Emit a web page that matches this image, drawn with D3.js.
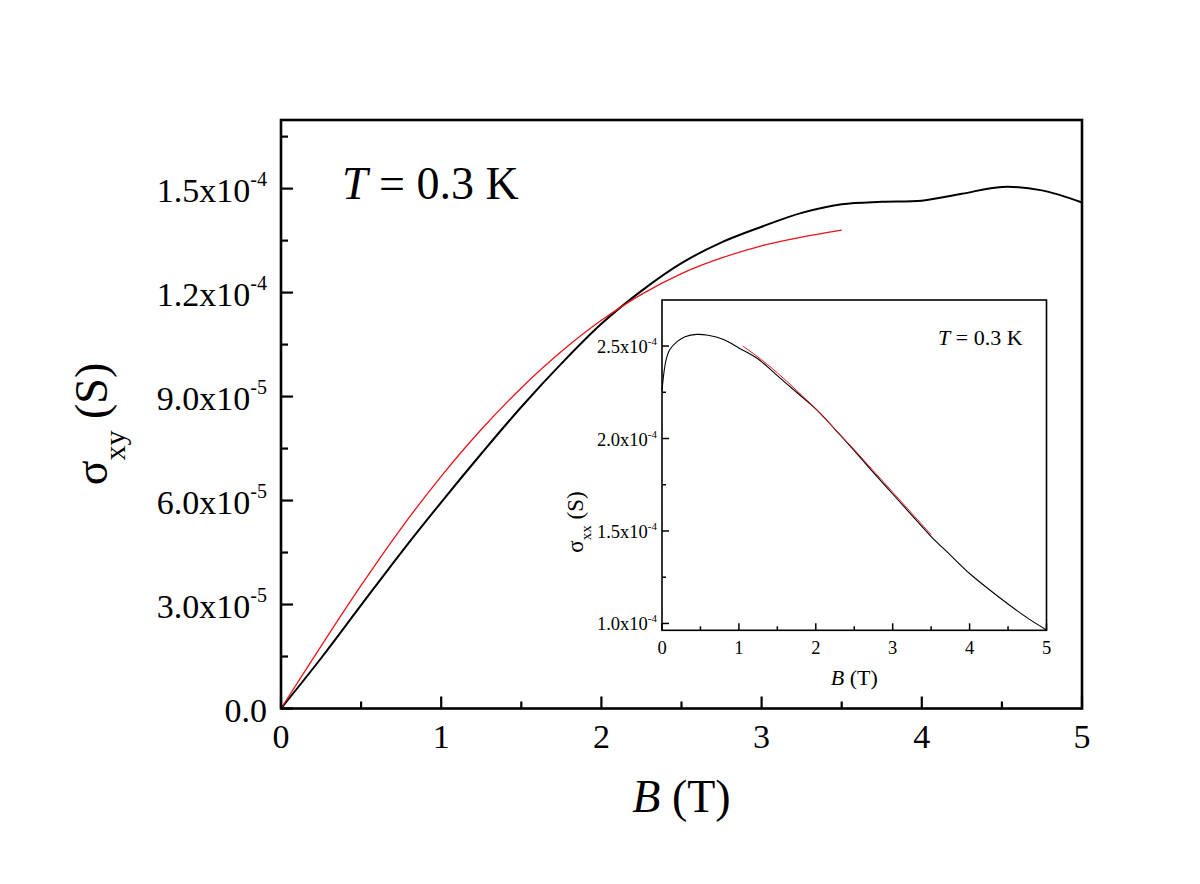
<!DOCTYPE html>
<html>
<head>
<meta charset="utf-8" />
<title>Hall conductivity vs B</title>
<style>
body { margin: 0; background: #fff; }
text { font-family: "Liberation Serif", "Times New Roman", serif; fill: #000; }
.frame { fill: none; stroke: #000; }
</style>
</head>
<body>
<script src="https://cdn.jsdelivr.net/npm/d3@7/dist/d3.min.js"></script>
<script>
// main panel: sigma_xy (S) vs B (T)
var mainB = [0, 0.25, 0.5, 0.75, 1.0, 1.25, 1.5, 1.75, 2.0, 2.25, 2.5, 2.75, 3.0, 3.25, 3.5, 3.75, 4.0, 4.25, 4.5, 4.75, 5.0];
var sigmaXY = [0, 1.45e-5, 2.98e-5, 4.5e-5, 5.95e-5, 7.35e-5, 8.7e-5, 9.95e-5, 11.1e-5, 12.05e-5, 12.85e-5, 13.45e-5,
               13.9e-5, 14.3e-5, 14.55e-5, 14.62e-5, 14.65e-5, 14.85e-5, 15.05e-5, 14.95e-5, 14.6e-5];
var fitB = [0, 0.25, 0.5, 0.75, 1.0, 1.25, 1.5, 1.75, 2.0, 2.25, 2.5, 2.75, 3.0, 3.25, 3.5];
var fitXY = [0, 1.8e-5, 3.55e-5, 5.2e-5, 6.7e-5, 8.05e-5, 9.25e-5, 10.3e-5, 11.2e-5, 11.95e-5, 12.55e-5, 13.0e-5,
             13.35e-5, 13.6e-5, 13.8e-5];
var mainYTicks = [0, 3e-5, 6e-5, 9e-5, 1.2e-4, 1.5e-4];
var mainYLabels = [["0.0", ""], ["3.0x10", "-5"], ["6.0x10", "-5"], ["9.0x10", "-5"], ["1.2x10", "-4"], ["1.5x10", "-4"]];
var mainYMinor = [1.5e-5, 4.5e-5, 7.5e-5, 10.5e-5, 13.5e-5, 16.5e-5];
var xTicks = [0, 1, 2, 3, 4, 5];
var xMinor = [0.5, 1.5, 2.5, 3.5, 4.5];

// inset: sigma_xx (S) vs B (T)
var insetB = [0, 0.05, 0.1, 0.2, 0.3, 0.45, 0.6, 0.8, 1.0, 1.25, 1.5, 1.75, 2.0, 2.25, 2.5, 2.75, 3.0, 3.25, 3.5, 3.75, 4.0, 4.25, 4.5, 4.75, 5.0];
var sigmaXX = [2.26e-4, 2.42e-4, 2.48e-4, 2.525e-4, 2.55e-4, 2.563e-4, 2.558e-4, 2.535e-4, 2.49e-4, 2.43e-4, 2.34e-4, 2.25e-4,
               2.16e-4, 2.05e-4, 1.935e-4, 1.815e-4, 1.70e-4, 1.585e-4, 1.47e-4, 1.37e-4, 1.27e-4, 1.185e-4, 1.105e-4, 1.03e-4, 0.965e-4];
var insetFitB = [1.05, 1.25, 1.5, 1.75, 2.0, 2.25, 2.5, 2.75, 3.0, 3.25, 3.5];
var insetFitXX = [2.50e-4, 2.44e-4, 2.355e-4, 2.26e-4, 2.16e-4, 2.05e-4, 1.94e-4, 1.825e-4, 1.71e-4, 1.595e-4, 1.48e-4];
var insetYTicks = [1.0e-4, 1.5e-4, 2.0e-4, 2.5e-4];
var insetYLabels = [["1.0x10", "-4"], ["1.5x10", "-4"], ["2.0x10", "-4"], ["2.5x10", "-4"]];
var insetYMinor = [1.25e-4, 1.75e-4, 2.25e-4];

var svg = d3.select("body").append("svg")
    .attr("width", 1200)
    .attr("height", 884);

function drawPanel(o) {
    var x = d3.scaleLinear().domain([0, 5]).range([o.left, o.right]);
    var y = d3.scaleLinear().domain(o.yDomain).range([o.bottom, o.top]);
    var g = svg.append("g");

    g.append("rect")
        .attr("x", o.left).attr("y", o.top)
        .attr("width", o.right - o.left).attr("height", o.bottom - o.top)
        .attr("fill", "#fff");

    // ticks point inwards, only on left and bottom
    g.selectAll(".xmaj").data(xTicks).enter().append("line")
        .attr("x1", function(d) { return x(d); }).attr("x2", function(d) { return x(d); })
        .attr("y1", o.bottom).attr("y2", o.bottom - o.tickMajor)
        .attr("stroke", "#000").attr("stroke-width", o.tickWidth);
    g.selectAll(".xmin").data(xMinor).enter().append("line")
        .attr("x1", function(d) { return x(d); }).attr("x2", function(d) { return x(d); })
        .attr("y1", o.bottom).attr("y2", o.bottom - o.tickMinor)
        .attr("stroke", "#000").attr("stroke-width", o.tickWidth);
    g.selectAll(".ymaj").data(o.yTicks).enter().append("line")
        .attr("y1", function(d) { return y(d); }).attr("y2", function(d) { return y(d); })
        .attr("x1", o.left).attr("x2", o.left + o.tickMajor)
        .attr("stroke", "#000").attr("stroke-width", o.tickWidth);
    g.selectAll(".ymin").data(o.yMinor).enter().append("line")
        .attr("y1", function(d) { return y(d); }).attr("y2", function(d) { return y(d); })
        .attr("x1", o.left).attr("x2", o.left + o.tickMinor)
        .attr("stroke", "#000").attr("stroke-width", o.tickWidth);

    // x tick labels
    g.selectAll(".xlab").data(xTicks).enter().append("text")
        .attr("x", function(d) { return x(d); })
        .attr("y", o.xLabelY)
        .attr("text-anchor", "middle")
        .style("font-size", o.tickFont + "px")
        .text(function(d) { return d; });

    // y tick labels with superscript exponent
    var yl = g.selectAll(".ylab").data(o.yTicks).enter().append("text")
        .attr("x", o.left - o.yLabelGap)
        .attr("y", function(d) { return y(d) + o.yLabelDy; })
        .attr("text-anchor", "end")
        .style("font-size", o.tickFont + "px");
    yl.append("tspan").text(function(d, i) { return o.yLabels[i][0]; });
    yl.append("tspan")
        .attr("dy", -o.supShift)
        .style("font-size", o.supFont + "px")
        .text(function(d, i) { return o.yLabels[i][1]; });

    var line = d3.line()
        .x(function(d) { return x(d[0]); })
        .y(function(d) { return y(d[1]); })
        .curve(d3.curveCatmullRom.alpha(0.5));

    g.append("path")
        .datum(d3.zip(o.bData, o.yData))
        .attr("d", line)
        .attr("fill", "none").attr("stroke", "#000").attr("stroke-width", o.dataWidth);
    g.append("path")
        .datum(d3.zip(o.fitB, o.fitY))
        .attr("d", line)
        .attr("fill", "none").attr("stroke", "#e8141a").attr("stroke-width", o.fitWidth);

    g.append("rect")
        .attr("class", "frame")
        .attr("x", o.left).attr("y", o.top)
        .attr("width", o.right - o.left).attr("height", o.bottom - o.top)
        .attr("stroke-width", o.frameWidth);

    // x title: B (T)
    var xt = g.append("text")
        .attr("x", (o.left + o.right) / 2)
        .attr("y", o.xTitleY)
        .attr("text-anchor", "middle")
        .style("font-size", o.titleFont + "px");
    xt.append("tspan").style("font-style", "italic").text("B");
    xt.append("tspan").text(" (T)");

    // y title: sigma with subscript
    var yt = g.append("text")
        .attr("transform", "translate(" + o.yTitleX + "," + o.yTitleY + ") rotate(-90)")
        .attr("text-anchor", "middle")
        .style("font-size", o.yTitleFont + "px");
    yt.append("tspan").text("\u03c3");
    yt.append("tspan").attr("dy", o.subShift).style("font-size", o.subFont + "px").text(o.sub);
    yt.append("tspan").attr("dy", -o.subShift).text(" (S)");

    // temperature note
    var tt = g.append("text")
        .attr("x", o.noteX).attr("y", o.noteY)
        .style("font-size", o.noteFont + "px");
    tt.append("tspan").style("font-style", "italic").text("T");
    tt.append("tspan").text(" = 0.3 K");
}

drawPanel({
    left: 281, right: 1082, top: 120, bottom: 708.5,
    yDomain: [0, 1.698e-4],
    yTicks: mainYTicks, yLabels: mainYLabels, yMinor: mainYMinor,
    tickMajor: 12, tickMinor: 7, tickWidth: 2.2, frameWidth: 2.6,
    tickFont: 34, supFont: 20, supShift: 16,
    xLabelY: 748, yLabelGap: 14, yLabelDy: 13,
    bData: mainB, yData: sigmaXY, fitB: fitB, fitY: fitXY,
    dataWidth: 2, fitWidth: 1.3,
    titleFont: 46, yTitleFont: 46, subFont: 30, subShift: 18, sub: "xy",
    xTitleY: 812, yTitleX: 107, yTitleY: 424,
    noteX: 342, noteY: 199, noteFont: 46
});

drawPanel({
    left: 662, right: 1046.5, top: 300, bottom: 630.3,
    yDomain: [0.963e-4, 2.749e-4],
    yTicks: insetYTicks, yLabels: insetYLabels, yMinor: insetYMinor,
    tickMajor: 7, tickMinor: 4, tickWidth: 1.5, frameWidth: 1.6,
    tickFont: 18.5, supFont: 11, supShift: 8,
    xLabelY: 654, yLabelGap: 5, yLabelDy: 7,
    bData: insetB, yData: sigmaXX, fitB: insetFitB, fitY: insetFitXX,
    dataWidth: 1.1, fitWidth: 1,
    titleFont: 22, yTitleFont: 23, subFont: 15, subShift: 8, sub: "xx",
    xTitleY: 685, yTitleX: 583, yTitleY: 522,
    noteX: 938, noteY: 345, noteFont: 22
});
</script>
</body>
</html>
